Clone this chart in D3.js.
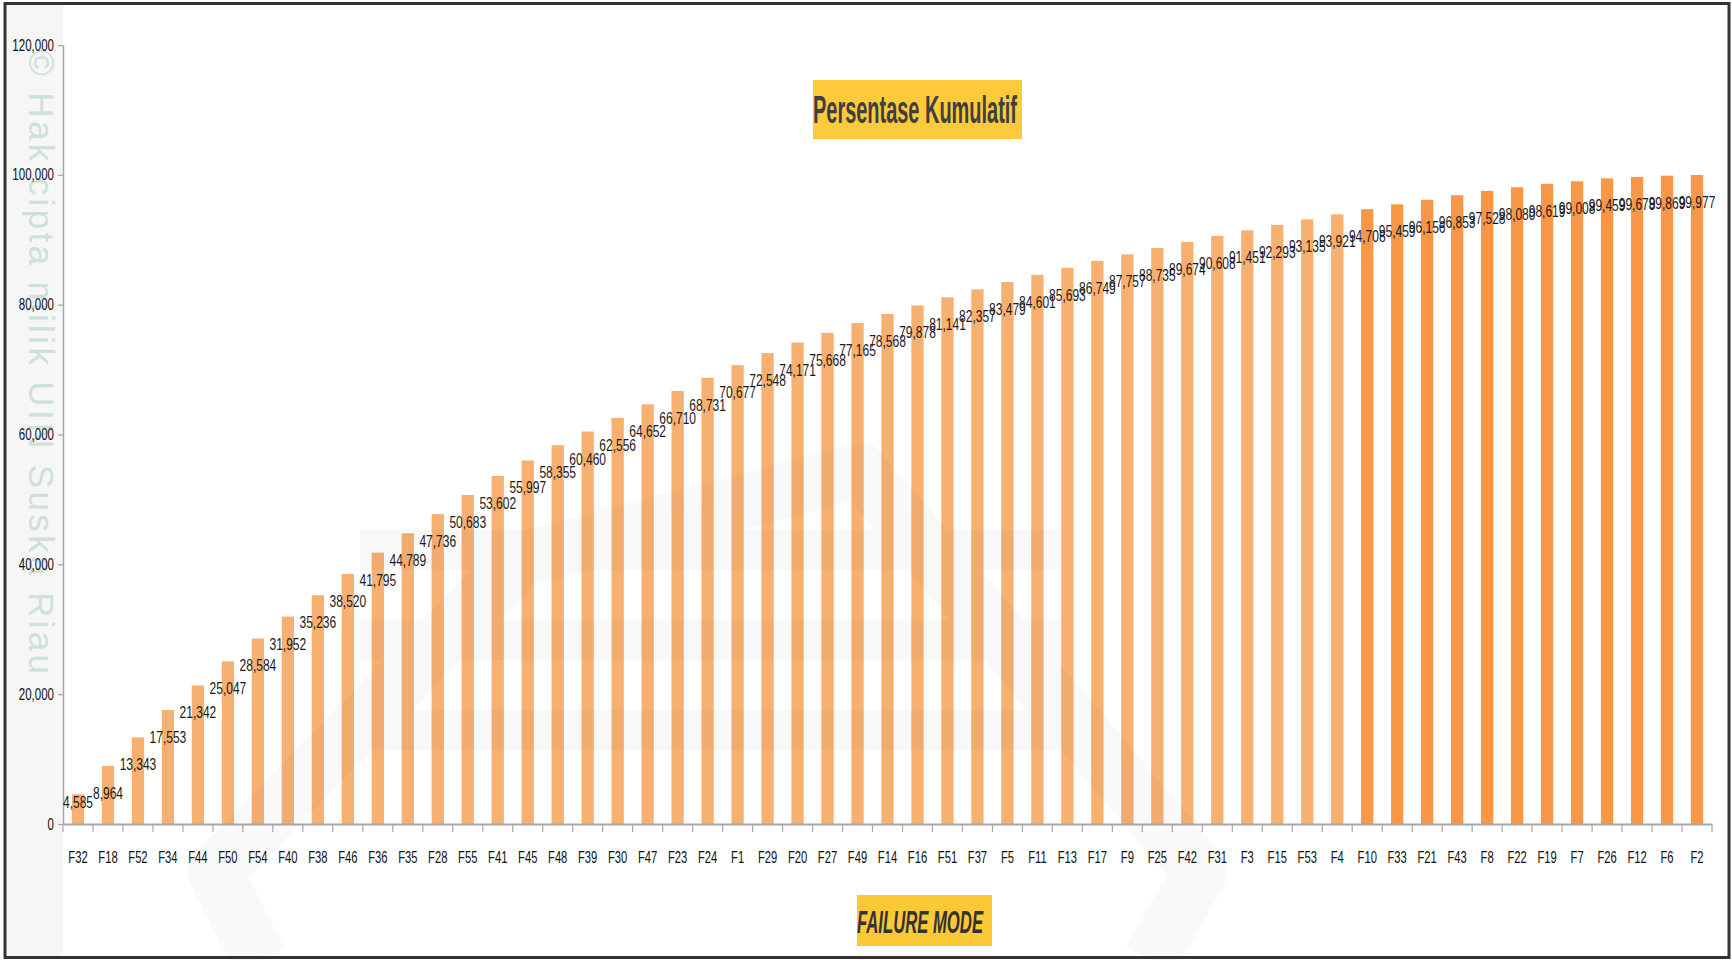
<!DOCTYPE html>
<html>
<head>
<meta charset="utf-8">
<script src="https://cdn.jsdelivr.net/npm/d3@7"></script>
<style>
  html, body { margin: 0; padding: 0; background: #ffffff; }
  svg { display: block; }
</style>
</head>
<body>
<svg id="chart" width="1732" height="960"></svg>
<script>
// ---- data ----
const categories = ["F32","F18","F52","F34","F44","F50","F54","F40","F38","F46","F36","F35","F28","F55","F41","F45","F48","F39","F30","F47","F23","F24","F1","F29","F20","F27","F49","F14","F16","F51","F37","F5","F11","F13","F17","F9","F25","F42","F31","F3","F15","F53","F4","F10","F33","F21","F43","F8","F22","F19","F7","F26","F12","F6","F2"];
const cumulativePercent = [4.585,8.964,13.343,17.553,21.342,25.047,28.584,31.952,35.236,38.520,41.795,44.789,47.736,50.683,53.602,55.997,58.355,60.460,62.556,64.652,66.710,68.731,70.677,72.548,74.171,75.668,77.165,78.568,79.878,81.141,82.357,83.479,84.601,85.693,86.749,87.757,88.735,89.674,90.608,91.451,92.293,93.135,93.921,94.708,95.459,96.156,96.853,97.528,98.080,98.619,99.008,99.459,99.678,99.869,99.977];
const yTicks = [0,20,40,60,80,100,120];
const chartTitle = "Persentase Kumulatif";
const xAxisTitle = "FAILURE MODE";
const watermarkText = "© Hak cipta milik UIN Suska Riau";
const highlightFrom = "F10";

// ---- layout ----
const W = 1732, H = 960;
const plot = { left: 63, right: 1712, top: 45, bottom: 824 };
const svg = d3.select("#chart");

const locale = d3.formatLocale({ decimal: ",", thousands: ".", grouping: [3], currency: ["", ""] });
const fmt = locale.format(".3f");
const fmtTick = v => v === 0 ? "0" : fmt(v);

const x = d3.scaleBand().domain(categories).range([plot.left, plot.right]).paddingInner(0).paddingOuter(0);
const y = d3.scaleLinear().domain([0, 120]).range([plot.bottom, plot.top]);

// background
svg.append("rect").attr("x", 0).attr("y", 0).attr("width", W).attr("height", H).attr("fill", "#ffffff");
// left light strip
svg.append("rect").attr("x", 6).attr("y", 5).attr("width", plot.left - 6).attr("height", H - 8).attr("fill", "#f6f6f6");

// watermark text (vertical)
svg.append("text")
  .attr("transform", `translate(29,50) rotate(90)`)
  .attr("font-family", "Liberation Sans, Arial, sans-serif")
  .attr("font-size", 35)
  .attr("fill", "#cde2d6")
  .attr("textLength", 624)
  .attr("lengthAdjust", "spacing")
  .text(watermarkText);

// bars
const barW = x.bandwidth() * 0.41;
const hiIdx = categories.indexOf(highlightFrom);
svg.append("g").selectAll("rect")
  .data(categories)
  .join("rect")
  .attr("x", d => x(d) + (x.bandwidth() - barW) / 2)
  .attr("y", (d, i) => y(cumulativePercent[i]))
  .attr("width", barW)
  .attr("height", (d, i) => y(0) - y(cumulativePercent[i]))
  .attr("fill", (d, i) => i >= hiIdx ? "#F79747" : "#F8B071");

// faint background logo watermark (decorative)
const wm = svg.append("g").attr("opacity", 0.025).attr("pointer-events", "none");
wm.append("path")
  .attr("d", "M 260 960 L 215 872 L 520 560 L 860 470 L 1200 872 L 1150 960")
  .attr("fill", "none").attr("stroke", "#000").attr("stroke-width", 55).attr("stroke-linejoin", "round");
[[360, 530, 700, 40], [360, 620, 700, 40], [360, 710, 700, 40]].forEach(r => {
  wm.append("rect").attr("x", r[0]).attr("y", r[1]).attr("width", r[2]).attr("height", r[3]).attr("fill", "#000");
});

// y axis
const yAxis = d3.axisLeft(y).tickValues(yTicks).tickFormat(fmtTick).tickSize(5).tickSizeOuter(0);
const gy = svg.append("g").attr("transform", `translate(${plot.left},0)`).call(yAxis);
gy.select(".domain").attr("stroke", "#a6a6a6").attr("stroke-width", 1.5);
gy.selectAll(".tick line").attr("stroke", "#a6a6a6").attr("stroke-width", 1.2);
gy.selectAll(".tick text")
  .attr("x", null).attr("dy", null)
  .attr("text-anchor", "end")
  .attr("font-family", "Liberation Sans, Arial, sans-serif")
  .attr("font-size", 16)
  .attr("fill", "#111")
  .attr("transform", "translate(-9,5) scale(0.72,1)");

// x axis
const xAxis = d3.axisBottom(x).tickSize(0).tickSizeOuter(0);
const gx = svg.append("g").attr("transform", `translate(0,${plot.bottom})`).call(xAxis);
gx.select(".domain").attr("stroke", "#a6a6a6").attr("stroke-width", 2);
gx.selectAll(".tick text")
  .attr("y", null).attr("dy", null)
  .attr("font-family", "Liberation Sans, Arial, sans-serif")
  .attr("font-size", 17)
  .attr("fill", "#111")
  .attr("transform", "translate(0,39) scale(0.66,1)");
// boundary ticks between categories
const bounds = categories.map(c => x(c)).concat([plot.right]);
svg.append("g").selectAll("line")
  .data(bounds)
  .join("line")
  .attr("x1", d => d).attr("x2", d => d)
  .attr("y1", plot.bottom).attr("y2", plot.bottom + 8)
  .attr("stroke", "#a6a6a6").attr("stroke-width", 1.2);

// data labels
svg.append("g").selectAll("text")
  .data(categories)
  .join("text")
  .attr("transform", (d, i) => {
    const cy = Math.min(y(cumulativePercent[i]) + 27, plot.bottom - 22);
    return `translate(${x(d) + x.bandwidth() / 2},${cy + 6}) scale(0.75,1)`;
  })
  .attr("text-anchor", "middle")
  .attr("font-family", "Liberation Sans, Arial, sans-serif")
  .attr("font-size", 16)
  .attr("fill", "#1a1a1a")
  .text((d, i) => fmt(cumulativePercent[i]));

// chart title
svg.append("rect").attr("x", 813).attr("y", 80).attr("width", 209).attr("height", 59).attr("fill", "#FDCA3C");
svg.append("text")
  .attr("x", 813).attr("y", 123)
  .attr("font-family", "Liberation Sans, Arial, sans-serif")
  .attr("font-weight", "bold")
  .attr("font-size", 38)
  .attr("fill", "#3f3f3f")
  .attr("textLength", 204)
  .attr("lengthAdjust", "spacingAndGlyphs")
  .text(chartTitle);

// x axis title
svg.append("rect").attr("x", 857).attr("y", 895).attr("width", 135).attr("height", 51).attr("fill", "#FBC935");
svg.append("text")
  .attr("x", 857).attr("y", 933)
  .attr("font-family", "Liberation Sans, Arial, sans-serif")
  .attr("font-weight", "bold")
  .attr("font-style", "italic")
  .attr("font-size", 32)
  .attr("fill", "#333333")
  .attr("textLength", 126)
  .attr("lengthAdjust", "spacingAndGlyphs")
  .text(xAxisTitle);

// frame
svg.append("rect").attr("x", 5).attr("y", 3.5).attr("width", W - 8).attr("height", H - 6)
  .attr("fill", "none").attr("stroke", "#333333").attr("stroke-width", 3);
</script>
</body>
</html>
